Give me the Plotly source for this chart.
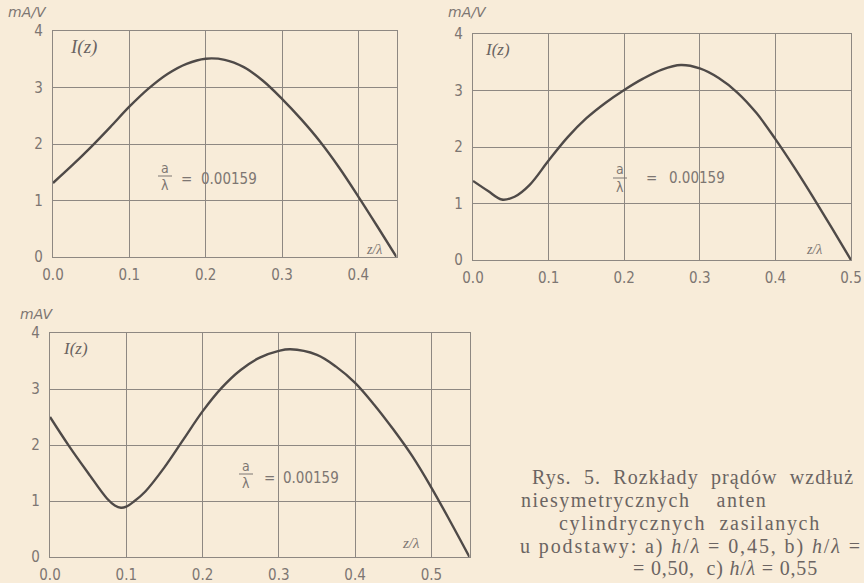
import plotly.graph_objects as go

# Data (z/lambda, I(z) in mA/V)
za = [0.0, 0.025, 0.05, 0.075, 0.1, 0.125, 0.15, 0.175, 0.2, 0.225, 0.25, 0.275, 0.3, 0.325, 0.35, 0.375, 0.4, 0.425, 0.45]
ia = [1.31, 1.62, 1.95, 2.30, 2.66, 2.98, 3.24, 3.42, 3.51, 3.49, 3.36, 3.12, 2.80, 2.44, 2.04, 1.58, 1.07, 0.54, 0.0]

zb = [0.0, 0.02, 0.038, 0.055, 0.075, 0.1, 0.125, 0.15, 0.175, 0.2, 0.225, 0.25, 0.275, 0.3, 0.325, 0.35, 0.375, 0.4, 0.425, 0.45, 0.475, 0.5]
ib = [1.40, 1.22, 1.07, 1.12, 1.33, 1.76, 2.17, 2.51, 2.78, 3.01, 3.21, 3.37, 3.45, 3.39, 3.22, 2.96, 2.60, 2.14, 1.64, 1.11, 0.56, 0.0]

zc = [0.0, 0.025, 0.05, 0.075, 0.085, 0.093, 0.1, 0.11, 0.125, 0.15, 0.175, 0.2, 0.225, 0.25, 0.275, 0.3, 0.315, 0.35, 0.375, 0.4, 0.425, 0.45, 0.475, 0.5, 0.525, 0.55]
ic = [2.50, 1.98, 1.50, 1.04, 0.92, 0.88, 0.90, 0.99, 1.17, 1.60, 2.10, 2.60, 3.02, 3.34, 3.56, 3.68, 3.71, 3.61, 3.40, 3.11, 2.72, 2.28, 1.80, 1.24, 0.63, 0.0]

x_ticks_a = [0.0, 0.1, 0.2, 0.3, 0.4]
x_ticks_b = [0.0, 0.1, 0.2, 0.3, 0.4, 0.5]
x_ticks_c = [0.0, 0.1, 0.2, 0.3, 0.4, 0.5]
y_ticks = [0, 1, 2, 3, 4]

W, H = 864, 583
BG = "#f8ecd9"
LINE = "#4f4a48"
GRID = "#8e8882"
TICK = "#7d7672"
TFONT = "Liberation Sans Narrow, DejaVu Sans Condensed, sans-serif"


def px(x, y):
    return x / W, 1 - y / H


fig = go.Figure()
for xs, ys, xa, ya in [(za, ia, "x", "y"), (zb, ib, "x2", "y2"), (zc, ic, "x3", "y3")]:
    fig.add_trace(go.Scatter(x=xs, y=ys, mode="lines",
                             line=dict(color=LINE, width=2.4, shape="spline", smoothing=1.0),
                             xaxis=xa, yaxis=ya, hoverinfo="skip"))


def xax(domain, rng, ticks, anchor):
    return dict(domain=domain, range=rng, tickvals=ticks, ticktext=["%.1f" % t for t in ticks],
                showgrid=True, gridcolor=GRID, gridwidth=1, showline=True, linecolor=GRID, linewidth=1.2,
                mirror=True, zeroline=False, ticks="", anchor=anchor, fixedrange=True, automargin=False,
                ticklabelstandoff=4, tickfont=dict(family=TFONT, size=15, color=TICK))


def yax(domain, anchor):
    return dict(domain=domain, range=[0, 4], tickvals=y_ticks, ticktext=[str(t) for t in y_ticks],
                showgrid=True, gridcolor=GRID, gridwidth=1, showline=True, linecolor=GRID, linewidth=1.2,
                mirror=True, zeroline=False, ticks="", anchor=anchor, fixedrange=True, automargin=False,
                ticklabelstandoff=6, tickfont=dict(family=TFONT, size=15, color=TICK))


fig.update_layout(
    width=W, height=H, paper_bgcolor=BG, plot_bgcolor=BG, showlegend=False,
    margin=dict(l=0, r=0, t=0, b=0),
    xaxis=xax([53 / W, 396.5 / W], [0, 0.45], x_ticks_a, "y"),
    yaxis=yax([1 - 257 / H, 1 - 31 / H], "x"),
    xaxis2=xax([473 / W, 851 / W], [0, 0.5], x_ticks_b, "y2"),
    yaxis2=yax([1 - 260 / H, 1 - 34 / H], "x2"),
    xaxis3=xax([50 / W, 469.5 / W], [0, 0.55], x_ticks_c, "y3"),
    yaxis3=yax([1 - 557 / H, 1 - 333 / H], "x3"),
)

ann = []
shapes = []


def text(x, y, s, size=13, family=TFONT, color=TICK, xanchor="center", italic=False):
    ax, ay = px(x, y)
    ann.append(dict(x=ax, y=ay, xref="paper", yref="paper", text=s, showarrow=False,
                    xanchor=xanchor, yanchor="middle",
                    font=dict(family=family, size=size, color=color, style="italic" if italic else "normal")))


ITAL = "DejaVu Sans, sans-serif"
SERIFI = "Liberation Serif, DejaVu Serif, serif"
# unit labels
text(6, 12, "mA/V", 14, ITAL, TICK, "left", True)
text(446, 12, "mA/V", 14, ITAL, TICK, "left", True)
text(18, 314, "mAV", 14, ITAL, TICK, "left", True)
# I(z)
text(83, 47, "I(z)", 19, SERIFI, "#6a6462", "center", True)
text(497, 49, "I(z)", 17, SERIFI, "#6a6462", "center", True)
text(75, 348, "I(z)", 17, SERIFI, "#6a6462", "center", True)
# z/lambda
text(374, 250, "z/λ", 14, SERIFI, TICK, "center", True)
text(814, 250, "z/λ", 14, SERIFI, TICK, "center", True)
text(411, 543, "z/λ", 15, SERIFI, TICK, "center", True)
# fractions a/lambda = 0.00159
for (cx, ya, yb, ybar, xeq, xnum, ynum) in [(165, 168, 185, 176, 186, 199, 179),
                                          (620, 169, 187, 178, 651, 667, 178),
                                          (246, 466, 483, 474, 269, 281, 478)]:
    text(cx, ya, "a", 14, TFONT, TICK)
    text(cx, yb, "λ", 14, TFONT, TICK)
    x0, y0 = px(cx - 7, ybar)
    x1, _ = px(cx + 7, ybar)
    shapes.append(dict(type="line", xref="paper", yref="paper", x0=x0, x1=x1, y0=y0, y1=y0,
                       line=dict(color=TICK, width=1)))
    text(xeq, ynum, "=", 15, TFONT, TICK)
    text(xnum, ynum, "0.00159", 15, TFONT, TICK, "left")

# caption (loosely tracked, as printed)
CAP = "Liberation Serif, DejaVu Serif, serif"
CC = "#6b6462"
NB = "\u00a0"


def cap(x, y, s, anchor="left", ls=1.5):
    text(x, y, '<span style="letter-spacing:%.1fpx">%s</span>' % (ls, s), 20, CAP, CC, anchor)


cap(530, 477, "Rys." + NB * 2 + "5." + NB * 2 + "Rozkłady" + NB * 2 + "prądów" + NB * 2 + "wzdłuż", ls=1.1)
cap(519, 500, "niesymetrycznych" + NB * 4 + "anten")
cap(557, 523, "cylindrycznych" + NB * 2 + "zasilanych", ls=1.7)
cap(518, 546, "u" + NB + "podstawy:" + NB + "a)" + NB + "<i>h</i>/<i>λ</i>" + NB + "=" + NB + "0,45," + NB + "b)" + NB + "<i>h</i>/<i>λ</i>" + NB + "=", ls=1.9)
cap(725, 568, "=" + NB + "0,50," + NB * 2 + "c)" + NB + "<i>h</i>/<i>λ</i>" + NB + "=" + NB + "0,55", "center", ls=0.8)

fig.update_layout(annotations=ann, shapes=shapes)
fig.write_html("out.html", config={"displayModeBar": False},
               post_script="document.body.style.margin='0px';")
